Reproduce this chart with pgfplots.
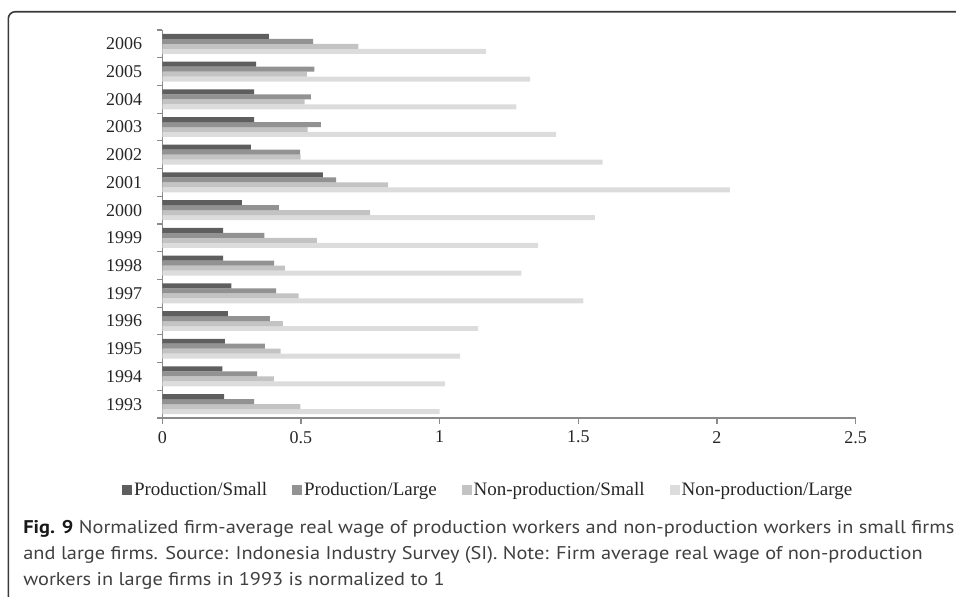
\documentclass[border=0pt]{standalone}
\usepackage{fontspec}
\setmainfont{Liberation Serif}
\newfontfamily\capfont{PT Sans}
\usepackage{pgfplots}
\pgfplotsset{compat=1.18}
\definecolor{cPS}{HTML}{5E5E5E}
\definecolor{cPL}{HTML}{929292}
\definecolor{cNS}{HTML}{C3C3C3}
\definecolor{cNL}{HTML}{DCDCDC}
\definecolor{axisgrey}{HTML}{8A8A8A}
\definecolor{framec}{HTML}{3A3A3A}
\definecolor{captxt}{HTML}{404040}
\pgfplotsset{xbar legend/.style={/pgfplots/legend image code/.code={\fill[##1] (0pt,-2.6pt) rectangle (5.2pt,2.6pt);}}}
\pgfplotstableread{
idx PS PL NS NL
0 0.223 0.331 0.498 1.000
1 0.217 0.342 0.402 1.019
2 0.226 0.370 0.427 1.074
3 0.236 0.388 0.435 1.139
4 0.249 0.410 0.492 1.518
5 0.219 0.403 0.442 1.295
6 0.219 0.368 0.557 1.355
7 0.287 0.420 0.749 1.560
8 0.579 0.627 0.814 2.047
9 0.319 0.497 0.499 1.588
10 0.331 0.572 0.524 1.420
11 0.331 0.536 0.513 1.277
12 0.338 0.548 0.521 1.326
13 0.384 0.544 0.707 1.168
}\datatable
\newlength\capw
\begin{document}
\settowidth\capw{\capfont\fontsize{9.2}{11}\selectfont\textbf{Fig. 9} Normalized firm-average real wage of production workers and non-production workers in small firms}%
\pgfmathsetmacro\sx{465.5/\capw}%
\begin{tikzpicture}
\useasboundingbox (0,0) rectangle (478pt,-298pt);
\clip (0,0) rectangle (478pt,-298pt);
% frame
\draw[line width=0.8pt, color=framec, rounded corners=3.5pt]
  ({960*0.5pt},{-11.7*0.5pt}) -- ({8.3*0.5pt},{-11.7*0.5pt}) -- ({8.3*0.5pt},{-603*0.5pt}) -- ({60*0.5pt},{-603*0.5pt});
\begin{axis}[
  at={({162.3*0.5pt},{-418*0.5pt})}, anchor=south west,
  scale only axis, width=346.65pt, height=194pt,
  xbar=0pt, bar width=0.18,
  xmin=0, xmax=2.5, ymin=-0.5, ymax=13.5,
  xtick={0,0.5,1,1.5,2,2.5},
  ytick={0,...,13},
  yticklabels={1993,1994,1995,1996,1997,1998,1999,2000,2001,2002,2003,2004,2005,2006},
  minor ytick={-0.5,0.5,...,13.5},
  axis x line*=bottom, axis y line*=left,
  axis line style={color=axisgrey, line width=0.6pt},
  tick align=outside,
  major tick length=3pt, minor tick length=2.5pt,
  every tick/.style={color=axisgrey, line width=0.6pt},
  every major y tick/.style={draw=none},
  /pgf/number format/assume math mode=true,
  ticklabel style={font=\fontsize{9}{10}\selectfont, color=black!85},
  yticklabel style={xshift=-3.5pt},
  legend style={at={(-0.0586,-0.1856)}, anchor=west, draw=none, fill=none,
    inner sep=0pt, font=\fontsize{9.5}{11}\selectfont,
    nodes={inner sep=0.8pt, text=black!85},
    /tikz/every even column/.append style={column sep=11.7pt}},
  legend columns=4, legend cell align=left, reverse legend,
  clip=false,
]
\addplot[fill=cNL, draw=none] table[x=NL, y=idx] {\datatable};
\addplot[fill=cNS, draw=none] table[x=NS, y=idx] {\datatable};
\addplot[fill=cPL, draw=none] table[x=PL, y=idx] {\datatable};
\addplot[fill=cPS, draw=none] table[x=PS, y=idx] {\datatable};
\legend{Non-production/Large, Non-production/Small, Production/Large, Production/Small}
\end{axis}
% caption
\node[anchor=base west, inner sep=0pt, text=captxt] at ({23*0.5pt},{-533.3*0.5pt})
  {\scalebox{\sx}[1]{\capfont\fontsize{9.2}{11}\selectfont\textbf{\color{black!90}Fig. 9} Normalized firm-average real wage of production workers and non-production workers in small firms}};
\node[anchor=base west, inner sep=0pt, text=captxt] at ({23*0.5pt},{-559.3*0.5pt})
  {\scalebox{\sx}[1]{\capfont\fontsize{9.2}{11}\selectfont and large firms. Source: Indonesia Industry Survey (SI). Note: Firm average real wage of non-production}};
\node[anchor=base west, inner sep=0pt, text=captxt] at ({23*0.5pt},{-585.3*0.5pt})
  {\scalebox{\sx}[1]{\capfont\fontsize{9.2}{11}\selectfont workers in large firms in 1993 is normalized to 1}};
\end{tikzpicture}
\end{document}
